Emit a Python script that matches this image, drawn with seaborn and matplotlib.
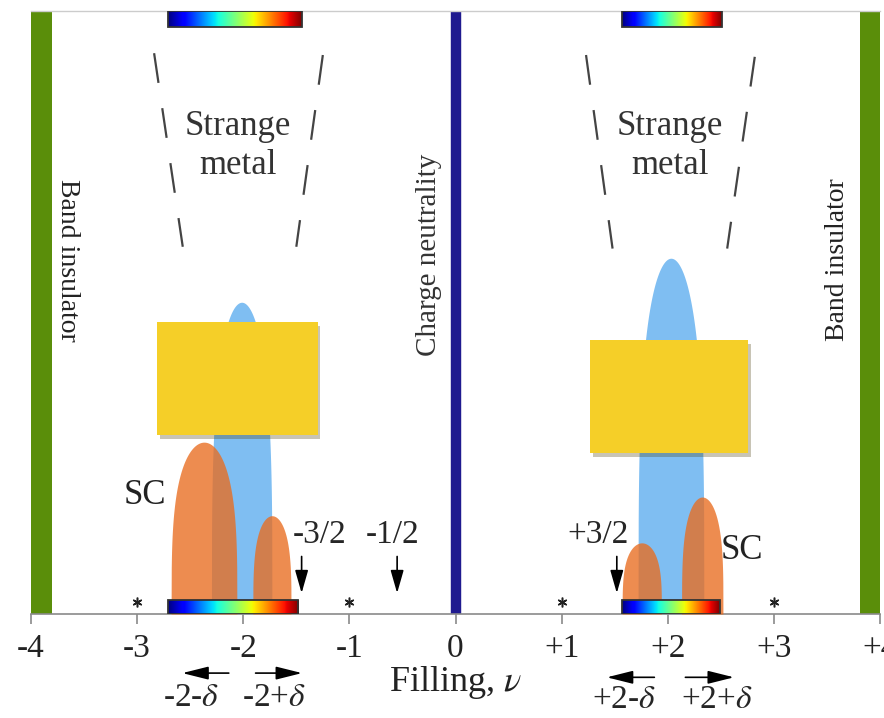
import numpy as np
import matplotlib.pyplot as plt
import matplotlib.patheffects as pe
import seaborn as sns
from matplotlib.patches import Rectangle

# filling axis
tick_values = [-4, -3, -2, -1, 0, 1, 2, 3, 4]
tick_labels = ['-4', '-3', '-2', '-1', '0', '+1', '+2', '+3', '+4']

# band insulator strips (x ranges)
insulator_spans = [(-4.0, -3.80), (3.81, 4.0)]

# correlated insulator domes: left, right, height
blue_domes = [(-2.30, -1.73, 0.517), (1.72, 2.34, 0.590)]
# superconducting domes: left, right, height
sc_domes = [(-2.68, -2.06, 0.285), (-1.91, -1.55, 0.163),
            (1.57, 1.94, 0.118), (2.13, 2.52, 0.194)]

# jet colour bars: left, right
top_bars = [(-2.71, -1.45), (1.57, 2.51)]
bottom_bars = [(-2.71, -1.48), (1.57, 2.49)]

# covering boxes: x0, x1, y0, y1
boxes = [(-2.81, -1.30, 0.297, 0.484), (1.27, 2.76, 0.267, 0.454)]

# strange metal crossover lines: x_top, y_top, x_bottom, y_bottom
sm_lines = [(-2.84, 0.930, -2.57, 0.609), (-1.25, 0.927, -1.50, 0.609),
            (1.23, 0.927, 1.48, 0.606), (2.82, 0.924, 2.56, 0.606)]
sm_centers = [-2.05, 2.02]

star_x = [-3, -1, 1, 3]

# fractional filling arrows: arrow x, label x, label
frac_arrows = [(-1.45, -1.28, '-3/2'), (-0.55, -0.59, '-1/2'), (1.52, 1.34, '+3/2')]

# doping arrows below the axis: x_start, x_end, y
dope_arrows = [(-2.11, -2.60, -0.098), (-1.91, -1.42, -0.098),
               (1.90, 1.40, -0.105), (2.14, 2.65, -0.105)]
dope_labels = [(-2.49, -0.139, r'-2-$\delta$'), (-1.71, -0.139, r'-2+$\delta$'),
               (1.59, -0.143, r'+2-$\delta$'), (2.46, -0.143, r'+2+$\delta$')]


def dome(x0, x1, h, n=400):
    x = np.linspace(x0, x1, n)
    c = (x0 + x1) / 2
    w = (x1 - x0) / 2
    u = np.clip(np.abs((x - c) / w), 0, 1)
    return x, h * (1 - u ** 2) ** (1 / 3.5)


sns.set_theme(style='white')
plt.rcParams['font.family'] = ['Liberation Serif', 'DejaVu Serif']
plt.rcParams['mathtext.fontset'] = 'stix'

fig = plt.figure(figsize=(8.84, 7.18), dpi=100)
ax = fig.add_axes([31 / 884, 104 / 718, 849 / 884, 603 / 718])

for x0, x1 in insulator_spans:
    ax.axvspan(x0, x1, color='#5a8e0a', lw=0, zorder=2)
ax.axvline(0, color='#1f1a8f', lw=7.5, zorder=2)

for x0, x1, h in blue_domes:
    x, y = dome(x0, x1, h)
    ax.fill_between(x, 0, y, color='#7fbef2', lw=0, zorder=2)
for x0, x1, h in sc_domes:
    x, y = dome(x0, x1, h)
    ax.fill_between(x, 0, y, color='#e96c1f', alpha=0.78, lw=0, zorder=3)

gradient = np.linspace(0, 1, 256)[None, :]
for bars, y0, y1 in [(top_bars, 0.973, 1.0), (bottom_bars, 0.0, 0.023)]:
    for x0, x1 in bars:
        ax.imshow(gradient, cmap='jet', extent=[x0, x1, y0, y1],
                  aspect='auto', zorder=4)
        ax.add_patch(Rectangle((x0, y0), x1 - x0, y1 - y0, fill=False,
                               ec='#333333', lw=1.3, zorder=5))

for x0, x1, y0, y1 in boxes:
    r = Rectangle((x0, y0), x1 - x0, y1 - y0, fc='#f5cf28', ec='none', zorder=6)
    r.set_path_effects([pe.withSimplePatchShadow(offset=(2, -3), alpha=0.3),
                        pe.Normal()])
    ax.add_patch(r)

for xt, yt, xb, yb in sm_lines:
    ax.plot([xt, xb], [yt, yb], color='#444444', lw=1.6,
            linestyle=(0, (13.5, 11.5)), zorder=3)
for xc in sm_centers:
    ax.text(xc, 0.776, 'Strange\nmetal', ha='center', va='center',
            fontsize=25, color='#333333', linespacing=1.24)

ax.plot(star_x, [0.02] * len(star_x), ls='none', marker=(6, 2, 0),
        ms=7, mew=1.1, color='#222222', zorder=5)

for xa, xl, lab in frac_arrows:
    ax.annotate('', xy=(xa, 0.03), xytext=(xa, 0.10),
                arrowprops=dict(arrowstyle='-|>,head_length=0.7,head_width=0.2',
                                color='black', lw=1.2, mutation_scale=20))
    ax.text(xl, 0.132, lab, ha='center', va='center', fontsize=24)

ax.text(-2.93, 0.197, 'SC', ha='center', va='center', fontsize=25, color='#222222')
ax.text(2.70, 0.106, 'SC', ha='center', va='center', fontsize=25, color='#222222')

ax.text(-3.66, 0.587, 'Band insulator', rotation=-90, ha='center', va='center',
        fontsize=20, color='#222222')
ax.text(3.60, 0.587, 'Band insulator', rotation=90, ha='center', va='center',
        fontsize=20, color='#222222')
ax.text(-0.245, 0.595, 'Charge neutrality', rotation=90, ha='center', va='center',
        fontsize=21, color='#333333')

for xs, xe, y in dope_arrows:
    ax.annotate('', xy=(xe, y), xytext=(xs, y), annotation_clip=False,
                arrowprops=dict(arrowstyle='-|>,head_length=0.8,head_width=0.2',
                                color='black', lw=1.2, mutation_scale=20))
for xl, yl, lab in dope_labels:
    ax.text(xl, yl, lab, ha='center', va='center', fontsize=24, clip_on=False)

ax.set_xlim(-4, 4)
ax.set_ylim(0, 1)
ax.set_xticks(tick_values)
ax.set_xticklabels(tick_labels)
ax.set_yticks([])
ax.tick_params(axis='x', bottom=True, direction='out', length=7, width=1.2,
               color='#8a8a8a', labelsize=24, pad=7, labelcolor='#222222')
ax.set_xlabel(r'Filling, $\nu$', fontsize=26, labelpad=0, color='#222222')
ax.spines['left'].set_visible(False)
ax.spines['right'].set_visible(False)
ax.spines['bottom'].set_color('#8a8a8a')
ax.spines['bottom'].set_linewidth(1.2)
ax.spines['top'].set_color('#cccccc')
ax.spines['top'].set_linewidth(1.0)

fig.savefig('out.png', dpi=100)
